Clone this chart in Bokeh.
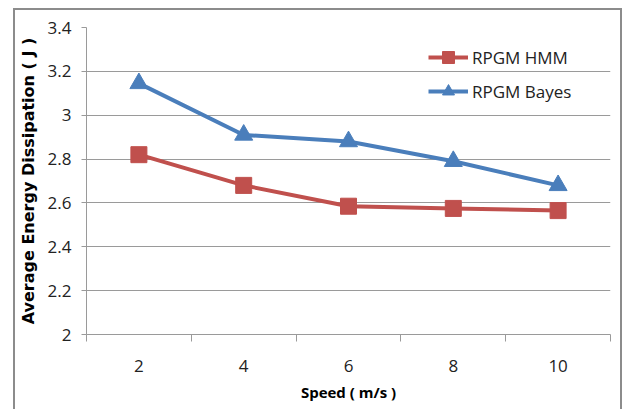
from bokeh.plotting import figure
from bokeh.models import (FixedTicker, NumeralTickFormatter, Legend, LegendItem, Range1d)
from bokeh.embed import file_html
from bokeh.resources import INLINE

speeds = [2, 4, 6, 8, 10]
rpgm_hmm = [2.82, 2.68, 2.585, 2.575, 2.565]
rpgm_bayes = [3.145, 2.91, 2.88, 2.79, 2.68]
y_ticks = [2.0, 2.2, 2.4, 2.6, 2.8, 3.0, 3.2, 3.4]
x_boundaries = [1, 3, 5, 7, 9, 11]

RED = "#C0504D"
BLUE = "#4A7EBB"
GRID = "#9a9a9a"
FONT = "Open Sans"

# figure occupies the outer chart box: x 13..626, y 8..bottom
p = figure(width=609, height=403, output_backend="svg", toolbar_location=None,
           x_range=Range1d(1, 11), y_range=Range1d(2, 3.4),
           min_border_left=71, min_border_right=14, min_border_top=17, min_border_bottom=79)
p.styles = {"position": "absolute", "left": "13px", "top": "8px",
            "border": "2px solid #8c8c8c"}
p.outline_line_color = None
p.background_fill_color = "white"
p.border_fill_color = "white"

# x axis
p.xaxis.ticker = FixedTicker(ticks=speeds, minor_ticks=x_boundaries)
p.xaxis.major_tick_line_color = None
p.xaxis.minor_tick_line_color = GRID
p.xaxis.minor_tick_out = 7
p.xaxis.minor_tick_in = 0
p.xaxis.axis_line_color = GRID
p.xaxis.major_label_text_font = FONT
p.xaxis.major_label_text_font_size = "17px"
p.xaxis.major_label_text_color = "#222222"
p.xaxis.major_label_standoff = 18
p.xaxis.axis_label = "Speed ( m/s )"
p.xaxis.axis_label_text_font = FONT
p.xaxis.axis_label_text_font_size = "15px"
p.xaxis.axis_label_text_font_style = "bold"
p.xaxis.axis_label_text_color = "black"
p.xaxis.axis_label_standoff = 7
p.xgrid.grid_line_color = None

# y axis
p.yaxis.ticker = FixedTicker(ticks=y_ticks)
p.yaxis.formatter = NumeralTickFormatter(format="0.[0]")
p.yaxis.minor_tick_line_color = None
p.yaxis.major_tick_line_color = GRID
p.yaxis.major_tick_out = 5
p.yaxis.major_tick_in = 0
p.yaxis.axis_line_color = GRID
p.yaxis.major_label_text_font = FONT
p.yaxis.major_label_text_font_size = "17px"
p.yaxis.major_label_text_color = "#222222"
p.yaxis.major_label_standoff = 10
p.yaxis.axis_label = "Average Energy Dissipation ( J )"
p.yaxis.axis_label_text_font = "DejaVu Sans"
p.yaxis.axis_label_text_font_size = "16px"
p.yaxis.axis_label_text_font_style = "bold"
p.yaxis.axis_label_text_color = "black"
p.yaxis.axis_label_standoff = 7
p.ygrid.grid_line_color = GRID
p.ygrid.grid_line_width = 1

# series
l1 = p.line(speeds, rpgm_hmm, line_color=RED, line_width=4)
s1 = p.scatter(speeds, rpgm_hmm, marker="square", size=16, fill_color=RED, line_color=RED)
l2 = p.line(speeds, rpgm_bayes, line_color=BLUE, line_width=4)
s2 = p.scatter(speeds, rpgm_bayes, marker="triangle", size=18, fill_color=BLUE, line_color=BLUE)

legend = Legend(items=[LegendItem(label="RPGM HMM", renderers=[l1, s1]),
                       LegendItem(label="RPGM Bayes", renderers=[l2, s2])],
                location=(342, 228), glyph_width=40, glyph_height=30, spacing=4,
                label_standoff=4, padding=0, margin=0,
                border_line_color=None, background_fill_alpha=0,
                label_text_font=FONT, label_text_font_size="17px",
                label_text_color="#222222")
p.add_layout(legend)

open("out.html", "w").write(file_html(p, INLINE))
